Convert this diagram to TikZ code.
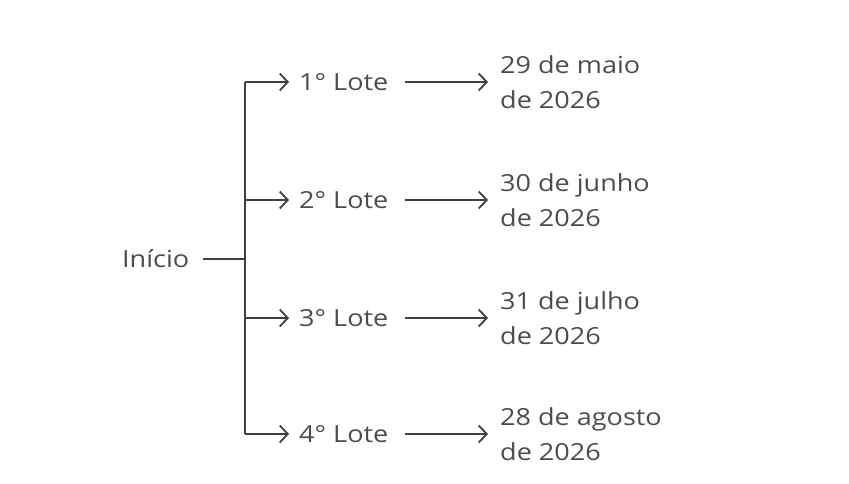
\documentclass[tikz,border=0pt]{standalone}
\usepackage{fontspec}
\setmainfont{Open Sans}[FakeStretch=1.15]
\usetikzlibrary{arrows.meta}
\begin{document}
\begin{tikzpicture}[x=1pt,y=1pt,
  txt/.style={inner sep=0pt,text=black!70,font=\fontsize{23.5}{35}\selectfont},
  ln/.style={draw=black!75,line width=1.8pt},
  arr/.style={ln,-{Straight Barb[length=8pt,width=17pt]}}]
\useasboundingbox (0,0) rectangle (849,483);
\node[txt,anchor=west] (ini) at (122,224) {Início};
\coordinate (j) at (245,224);
\draw[ln] (203,224) -- (j);
\coordinate (top) at (245,401);
\coordinate (bot) at (245,49);
\draw[ln] (top) -- (bot);
\foreach \i/\y/\d in {1/401/29 de maio,2/283/30 de junho,3/165/31 de julho,4/49/28 de agosto}{
  \coordinate (b\i) at (245,\y);
  \node[txt,anchor=west] (l\i) at (299,\y) {\i° Lote};
  \draw[arr] (b\i) -- (289,\y);
  \node[txt,anchor=west,align=left] (d\i) at (500,\y) {\d\\de 2026};
  \draw[arr] (405,\y) -- (488,\y);
}
\end{tikzpicture}
\end{document}
